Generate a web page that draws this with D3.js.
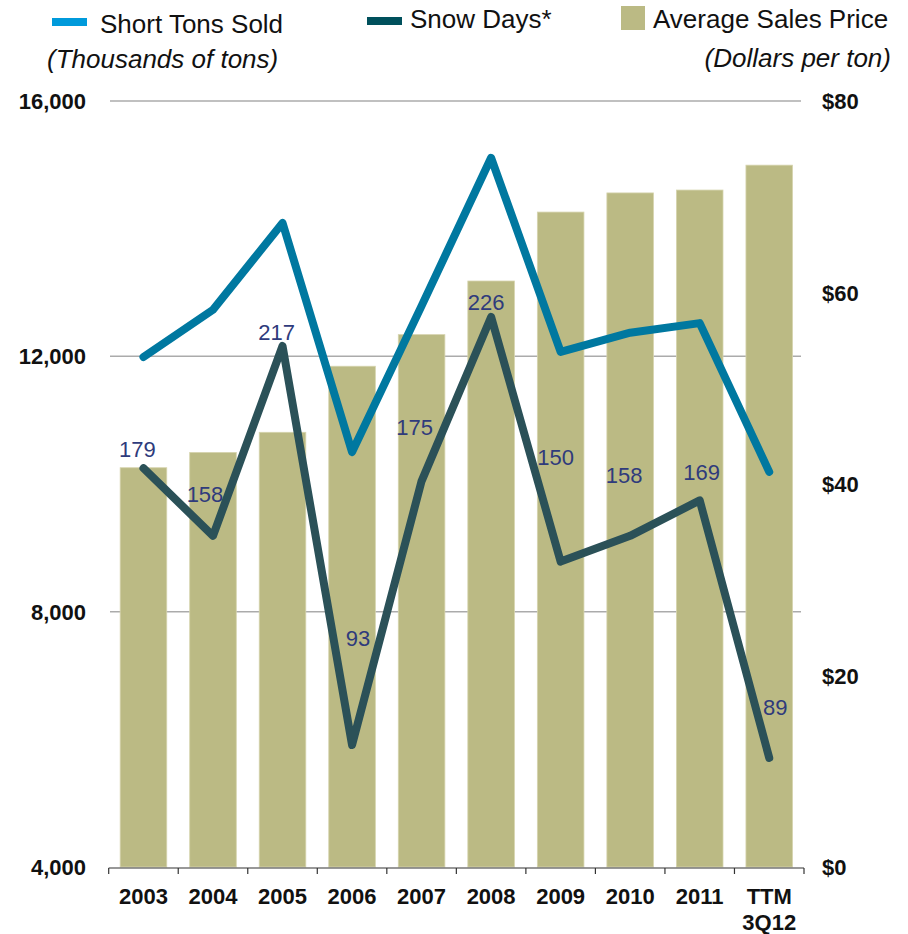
<!DOCTYPE html>
<html>
<head>
<meta charset="utf-8">
<script src="https://cdn.jsdelivr.net/npm/d3@7"></script>
<style>
  body { margin: 0; background: #fff; }
  text { font-family: Arial, "Liberation Sans", sans-serif; }
</style>
</head>
<body>
<div class="chart"></div>
<script>
var width = 908;
var height = 934;

// data
var categories = ["2003", "2004", "2005", "2006", "2007", "2008", "2009", "2010", "2011", "TTM\n3Q12"];
var avgPrice = [41.7, 43.3, 45.4, 52.3, 55.6, 61.2, 68.4, 70.4, 70.7, 73.3];
var tonsSold = [11990, 12730, 14090, 10500, 12790, 15110, 12070, 12370, 12520, 10190];
var snowDays = [179, 158, 217, 93, 175, 226, 150, 158, 169, 89];
var tonsTicks = [4000, 8000, 12000, 16000];
var priceTicks = [0, 20, 40, 60, 80];

// label nudges (px) so the numbers sit where the original put them
var labelNudge = [[-6, -11], [-8, -34], [-6, -6], [6, -99], [-7, -46], [-5, -7], [-5, -97], [-6, -53], [2, -20], [6, -43]];

var barColor = "#BBBA84";
var tonsColor = "#0078A0";
var tonsLegend = "#009ADB";
var snowColor = "#2B5158";
var snowLegend = "#00505C";
var labelColor = "#2F3B7C";

// plot area
var plotLeft = 108.7, plotRight = 804, plotTop = 101, plotBottom = 867;

var x = d3.scaleBand().domain(categories).range([plotLeft, plotRight]).padding(0);
var yTons = d3.scaleLinear().domain([4000, 16000]).range([plotBottom, plotTop]);
var yPrice = d3.scaleLinear().domain([0, 80]).range([plotBottom, plotTop]);
var ySnow = d3.scaleLinear().domain([55.1, 293.1]).range([plotBottom, plotTop]);

var svg = d3.select('.chart').append('svg')
	.attr('width', width)
	.attr('height', height);

// grid
svg.append('g').selectAll('line').data(tonsTicks.slice(1)).enter().append('line')
	.attr('x1', 110).attr('x2', 801)
	.attr('y1', d => yTons(d)).attr('y2', d => yTons(d))
	.attr('stroke', '#ABABAB').attr('stroke-width', 1.5);

// bars
var barW = x.bandwidth() * 0.67;
svg.append('g').selectAll('rect').data(avgPrice).enter().append('rect')
	.attr('x', (d, i) => x(categories[i]) + (x.bandwidth() - barW) / 2)
	.attr('width', barW)
	.attr('y', d => yPrice(d))
	.attr('height', d => plotBottom - yPrice(d))
	.attr('fill', barColor)
	.attr('stroke', '#D6D4AE').attr('stroke-width', 0.8);

// x axis
var xAxis = svg.append('g').attr('transform', 'translate(0,' + (plotBottom + 1) + ')');
xAxis.append('line').attr('x1', plotLeft).attr('x2', plotRight).attr('stroke', '#333').attr('stroke-width', 1.2);
xAxis.selectAll('line.tick').data(d3.range(categories.length + 1)).enter().append('line')
	.attr('class', 'tick')
	.attr('x1', i => plotLeft + i * x.step()).attr('x2', i => plotLeft + i * x.step())
	.attr('y1', 0).attr('y2', 6)
	.attr('stroke', '#333').attr('stroke-width', 1.2);
var xl = xAxis.selectAll('text').data(categories).enter().append('text')
	.attr('x', d => x(d) + x.bandwidth() / 2)
	.attr('y', 36)
	.attr('text-anchor', 'middle')
	.attr('font-weight', 'bold')
	.attr('font-size', 22)
	.attr('fill', '#111');
xl.each(function(d) {
	var parts = d.split('\n');
	var el = d3.select(this);
	parts.forEach(function(p, j) {
		el.append('tspan').attr('x', el.attr('x')).attr('dy', j == 0 ? 0 : 26).text(p);
	});
});

// left axis labels
svg.append('g').selectAll('text').data(tonsTicks).enter().append('text')
	.attr('x', 86).attr('y', d => yTons(d) + 8)
	.attr('text-anchor', 'end')
	.attr('font-weight', 'bold').attr('font-size', 22).attr('fill', '#111')
	.text(d3.format(','));

// right axis labels
svg.append('g').selectAll('text').data(priceTicks).enter().append('text')
	.attr('x', 822).attr('y', d => yPrice(d) + 8)
	.attr('text-anchor', 'start')
	.attr('font-weight', 'bold').attr('font-size', 22).attr('fill', '#111')
	.text(d => '$' + d);

// lines
var tonsLine = d3.line().x((d, i) => x(categories[i]) + x.bandwidth() / 2).y(d => yTons(d));
var snowLine = d3.line().x((d, i) => x(categories[i]) + x.bandwidth() / 2).y(d => ySnow(d));

svg.append('path').datum(tonsSold)
	.attr('d', tonsLine).attr('fill', 'none')
	.attr('stroke', tonsColor).attr('stroke-width', 8)
	.attr('stroke-linejoin', 'round').attr('stroke-linecap', 'round');

svg.append('path').datum(snowDays)
	.attr('d', snowLine).attr('fill', 'none')
	.attr('stroke', snowColor).attr('stroke-width', 8)
	.attr('stroke-linejoin', 'round').attr('stroke-linecap', 'round');

// snow day labels
svg.append('g').selectAll('text').data(snowDays).enter().append('text')
	.attr('x', (d, i) => x(categories[i]) + x.bandwidth() / 2 + labelNudge[i][0])
	.attr('y', (d, i) => ySnow(d) + labelNudge[i][1])
	.attr('text-anchor', 'middle')
	.attr('font-size', 22).attr('fill', labelColor)
	.text(d => d);

// legend
var legend = svg.append('g');
legend.append('rect').attr('x', 52).attr('y', 18).attr('width', 35).attr('height', 8).attr('fill', tonsLegend);
legend.append('text').attr('x', 100).attr('y', 33).attr('font-size', 26).attr('fill', '#111').text('Short Tons Sold');
legend.append('text').attr('x', 47).attr('y', 68).attr('font-size', 26).attr('font-style', 'italic').attr('fill', '#111').text('(Thousands of tons)');

legend.append('rect').attr('x', 367).attr('y', 17).attr('width', 35).attr('height', 8).attr('fill', snowLegend);
legend.append('text').attr('x', 410).attr('y', 28).attr('font-size', 26).attr('fill', '#111').text('Snow Days*');

legend.append('rect').attr('x', 621).attr('y', 6).attr('width', 24).attr('height', 24).attr('fill', barColor);
legend.append('text').attr('x', 653).attr('y', 28).attr('font-size', 26).attr('fill', '#111').text('Average Sales Price');
legend.append('text').attr('x', 891).attr('y', 67).attr('text-anchor', 'end').attr('font-size', 26).attr('font-style', 'italic').attr('fill', '#111').text('(Dollars per ton)');
</script>
</body>
</html>
